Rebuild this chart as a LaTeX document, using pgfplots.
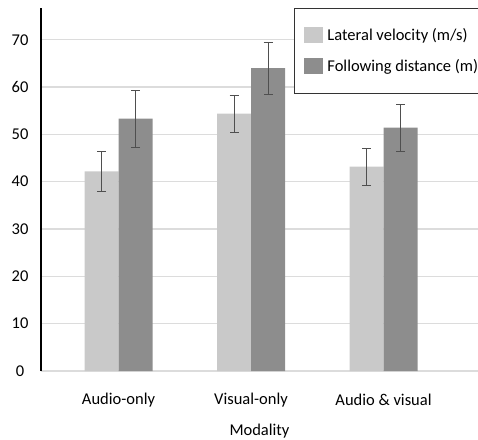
\documentclass[border=0pt]{standalone}
\usepackage{pgfplots}
\pgfplotsset{compat=1.18}
\usepackage{fontspec}
\setmainfont{Carlito}

\definecolor{lightbar}{HTML}{C9C9C9}
\definecolor{darkbar}{HTML}{8D8D8D}
\definecolor{errcol}{HTML}{4F4F4F}
\definecolor{gridcol}{HTML}{DCDCDC}

\begin{document}
\begin{tikzpicture}
  \useasboundingbox (0pt,0pt) rectangle (478pt,439pt);
  \begin{axis}[
    at={(41pt,68pt)}, anchor=south west,
    scale only axis,
    width=437pt, height=363pt,
    font=\fontsize{16.5}{19}\selectfont,
    /pgf/number format/assume math mode=true,
    ybar=0pt, bar width=34pt,
    xmin=-0.585, xmax=2.713,
    ymin=0, ymax=76.7,
    xtick={0,1,2},
    xticklabels={Audio-only, Visual-only, Audio \& visual},
    ytick={0,10,...,70},
    major tick length=0pt,
    separate axis lines,
    axis x line*=bottom, axis y line*=left,
    x axis line style={draw=none},
    y axis line style={black, line width=1.6pt},
    ymajorgrids,
    grid style={gridcol, line width=1.3pt},
    xticklabel style={anchor=center, yshift=-29pt},
    yticklabel style={anchor=center, xshift=-21pt},
    xlabel={Modality},
    xlabel style={at={(axis description cs:0.5,0)}, anchor=center, yshift=-60pt},
    error bars/y dir=both,
    error bars/y explicit,
    error bars/error bar style={errcol, line width=0.9pt},
    error bars/error mark options={rotate=90, mark size=4.5pt, line width=0.9pt, errcol},
    legend style={
      at={(rel axis cs:0.579,1)}, anchor=north west,
      font=\fontsize{16.5}{19}\selectfont,
      draw=black!80, line width=0.8pt, fill=white,
      inner xsep=10pt, inner ysep=19pt,
      row sep=15pt,
      nodes={inner sep=0pt},
      /tikz/every odd column/.append style={column sep=4pt},
    },
    legend cell align=left,
  ]
    \addplot[fill=lightbar, draw=none,
      legend image code/.code={\fill[lightbar] (0pt,-8pt) rectangle (19pt,8pt);}]
      coordinates {(0,42.2) +- (0,4.2) (1,54.4) +- (0,3.9) (2,43.2) +- (0,3.9)};
    \addplot[fill=darkbar, draw=none,
      legend image code/.code={\fill[darkbar] (0pt,-8pt) rectangle (19pt,8pt);}]
      coordinates {(0,53.3) +- (0,6.0) (1,64.0) +- (0,5.5) (2,51.4) +- (0,5.0)};
    \addlegendentry{Lateral velocity (m/s)}
    \addlegendentry{Following distance (m)}
  \end{axis}
\end{tikzpicture}
\end{document}
